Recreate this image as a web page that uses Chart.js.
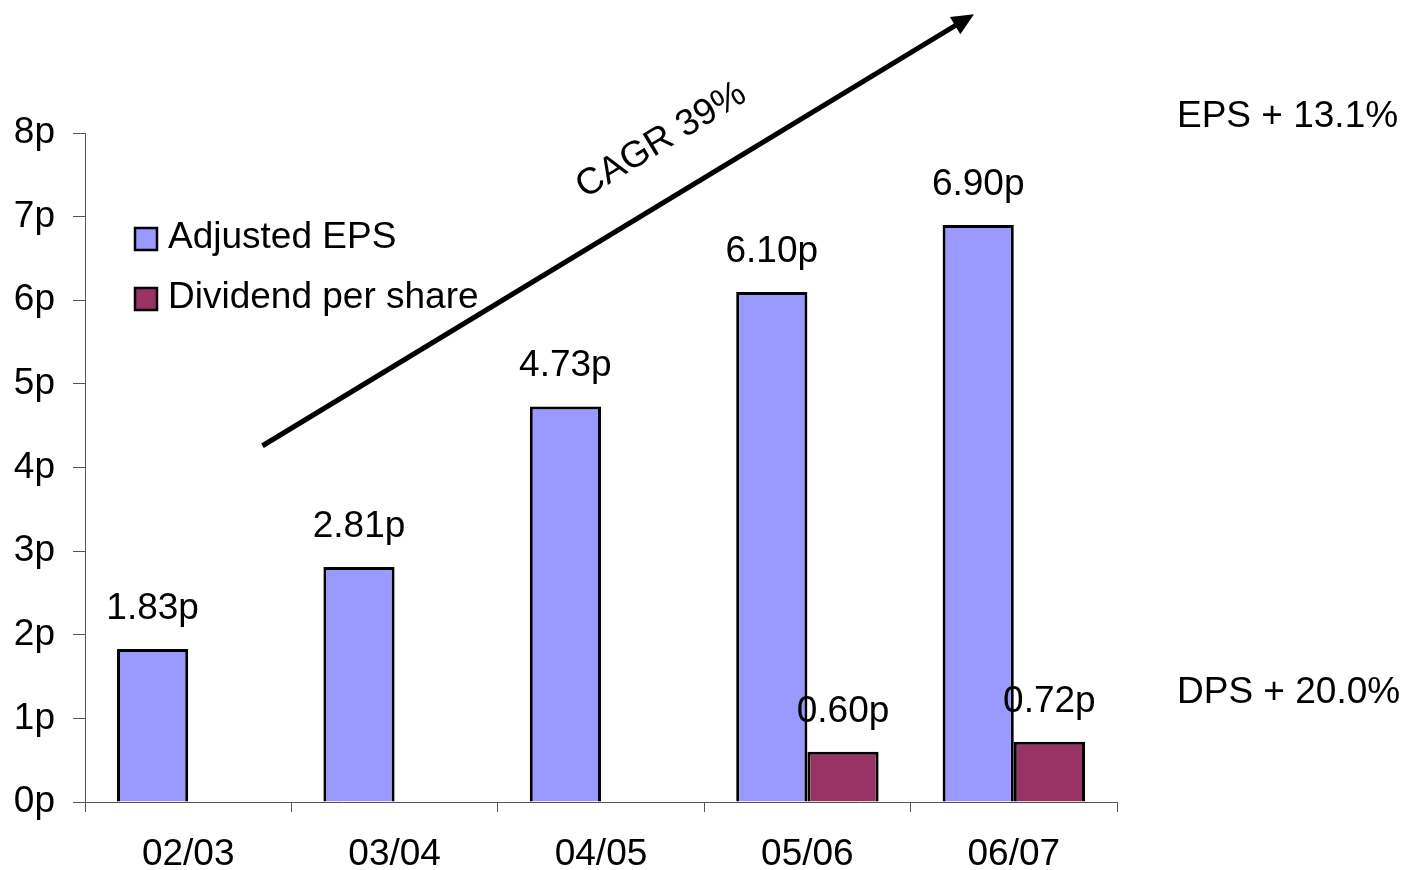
<!DOCTYPE html>
<html>
<head>
<meta charset="utf-8">
<script src="https://cdn.jsdelivr.net/npm/chart.js@4/dist/chart.umd.min.js"></script>
<style>
  html, body { margin: 0; padding: 0; background: #ffffff; }
  #wrap { width: 1403px; height: 870px; }
</style>
</head>
<body>
<div id="wrap"><canvas id="c" width="1403" height="870"></canvas></div>
<script>
const categories = ['02/03', '03/04', '04/05', '05/06', '06/07'];
const epsValues = [1.83, 2.81, 4.73, 6.10, 6.90];
const dpsValues = [null, null, null, 0.60, 0.72];
const seriesNames = ['Adjusted EPS', 'Dividend per share'];
const seriesColors = ['#9999FF', '#993366'];
const yTickValues = [0, 1, 2, 3, 4, 5, 6, 7, 8];
const growthNotes = ['EPS + 13.1%', 'DPS + 20.0%'];
const growthNoteLevels = [8.07, 1.18];
const cagrLabel = 'CAGR 39%';
const cagrArrowFrom = [0.36, 4.26];
const cagrArrowTo = [3.807, 9.42];

const FONT = '"Liberation Sans", Arial, sans-serif';
const FS = 37;

const overlay = {
  id: 'overlay',
  afterDatasetsDraw(chart) {
    const ctx = chart.ctx;
    const xs = chart.scales.x, ys = chart.scales.y;
    const area = chart.chartArea;
    ctx.save();
    ctx.font = FS + 'px ' + FONT;
    ctx.fillStyle = '#000';
    // value labels
    chart.data.datasets.forEach((ds, di) => {
      const meta = chart.getDatasetMeta(di);
      meta.data.forEach((bar, i) => {
        const v = ds.data[i];
        if (v === null || v === undefined) return;
        ctx.textAlign = 'center';
        ctx.textBaseline = 'alphabetic';
        ctx.fillText(v.toFixed(2) + 'p', bar.x, bar.y - 30);
      });
    });
    // legend
    chart.data.datasets.forEach((ds, di) => {
      const bx = area.left + 50, by = 228 + di * 60;
      ctx.fillStyle = ds.backgroundColor;
      ctx.fillRect(bx, by, 22, 22);
      ctx.lineWidth = 2.5;
      ctx.strokeStyle = '#000';
      ctx.strokeRect(bx, by, 22, 22);
      ctx.fillStyle = '#000';
      ctx.textAlign = 'left';
      ctx.textBaseline = 'alphabetic';
      ctx.fillText(ds.label, bx + 33, by + 20);
    });
    // growth notes
    ctx.textAlign = 'left';
    growthNotes.forEach((t, i) => {
      ctx.fillText(t, area.right + 60, ys.getPixelForValue(growthNoteLevels[i]));
    });
    // CAGR arrow
    const x0 = xs.getPixelForValue(cagrArrowFrom[0]), y0 = ys.getPixelForValue(cagrArrowFrom[1]);
    const x1 = xs.getPixelForValue(cagrArrowTo[0]), y1 = ys.getPixelForValue(cagrArrowTo[1]);
    const ang = Math.atan2(y1 - y0, x1 - x0);
    const headLen = 22, headW = 10;
    ctx.strokeStyle = '#000';
    ctx.lineWidth = 5;
    ctx.lineCap = 'butt';
    ctx.beginPath();
    ctx.moveTo(x0, y0);
    ctx.lineTo(x1 - Math.cos(ang) * (headLen - 2), y1 - Math.sin(ang) * (headLen - 2));
    ctx.stroke();
    ctx.beginPath();
    ctx.moveTo(x1, y1);
    ctx.lineTo(x1 - Math.cos(ang) * headLen - Math.sin(ang) * headW, y1 - Math.sin(ang) * headLen + Math.cos(ang) * headW);
    ctx.lineTo(x1 - Math.cos(ang) * headLen + Math.sin(ang) * headW, y1 - Math.sin(ang) * headLen - Math.cos(ang) * headW);
    ctx.closePath();
    ctx.fillStyle = '#000';
    ctx.fill();
    // CAGR text along arrow
    const t = 0.6;
    const mx = x0 + (x1 - x0) * t, my = y0 + (y1 - y0) * t;
    const off = 44;
    const tx = mx + Math.sin(ang) * off, ty = my - Math.cos(ang) * off;
    ctx.translate(tx, ty);
    ctx.rotate(ang);
    ctx.textAlign = 'center';
    ctx.textBaseline = 'alphabetic';
    ctx.fillText(cagrLabel, 0, 0);
    ctx.restore();
  }
};

new Chart(document.getElementById('c'), {
  type: 'bar',
  data: {
    labels: categories,
    datasets: [
      { label: seriesNames[0], data: epsValues, backgroundColor: seriesColors[0], borderColor: '#000', borderWidth: 3 },
      { label: seriesNames[1], data: dpsValues, backgroundColor: seriesColors[1], borderColor: '#000', borderWidth: 3 }
    ]
  },
  options: {
    responsive: false,
    animation: false,
    devicePixelRatio: 1,
    layout: { padding: { top: 133, right: 286, bottom: 0, left: 0 } },
    plugins: { legend: { display: false }, tooltip: { enabled: false } },
    datasets: { bar: { categoryPercentage: 0.69, barPercentage: 1.0 } },
    scales: {
      x: {
        grid: { offset: true, drawOnChartArea: false, drawTicks: true, tickLength: 10, color: '#555', lineWidth: 1 },
        border: { display: true, color: '#555', width: 1 },
        ticks: { color: '#000', font: { family: FONT, size: FS }, padding: 21, maxRotation: 0 },
        afterFit(scale) { scale.height = 68; }
      },
      y: {
        min: 0, max: 8,
        afterBuildTicks(scale) { scale.ticks = yTickValues.map(v => ({ value: v })); },
        grid: { drawOnChartArea: false, drawTicks: true, tickLength: 12, color: '#555', lineWidth: 1 },
        border: { display: true, color: '#555', width: 1 },
        ticks: { color: '#000', font: { family: FONT, size: FS }, padding: 18, callback: v => v + 'p' },
        afterFit(scale) { scale.width = 85; }
      }
    }
  },
  plugins: [overlay]
});
</script>
</body>
</html>
